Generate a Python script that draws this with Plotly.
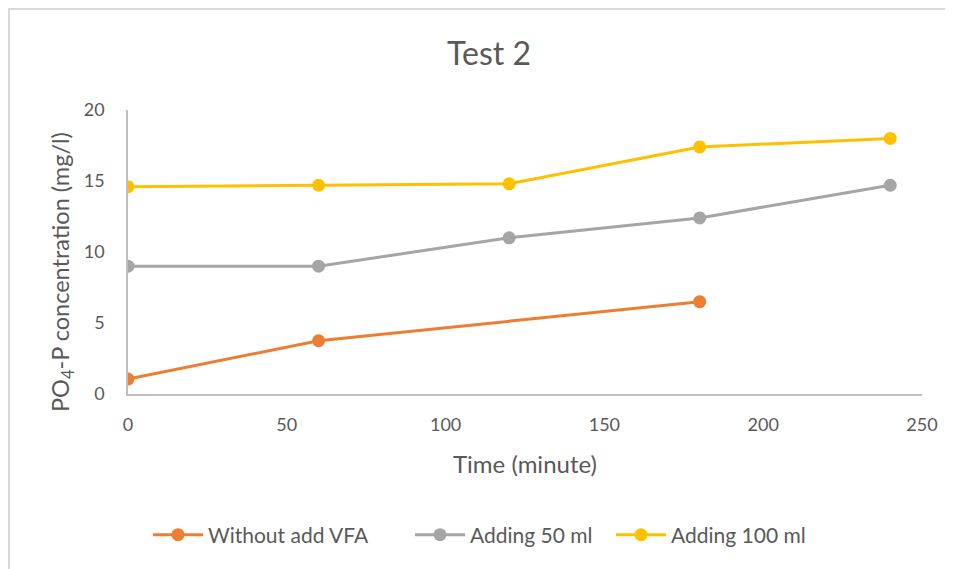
import plotly.graph_objects as go

time_orange = [0, 60, 180]
without_vfa = [1.05, 3.75, 6.5]
time_all = [0, 60, 120, 180, 240]
adding_50 = [9.0, 9.0, 11.0, 12.4, 14.7]
adding_100 = [14.6, 14.7, 14.8, 17.4, 18.0]

series = [
    ("Without add VFA", time_orange, without_vfa, "#ED7D31", "legend", 150),
    ("Adding 50 ml", time_all, adding_50, "#A5A5A5", "legend2", 412),
    ("Adding 100 ml", time_all, adding_100, "#FFC000", "legend3", 613),
]

L, R, T, B = 120, 39, 102, 183
PW, PH = 953 - L - R, 569 - T - B
OFF = 8  # page body margin

fig = go.Figure()
legends = {}
for name, xs, ys, col, lg, lx in series:
    fig.add_trace(go.Scatter(
        x=xs, y=ys, name=name, mode="lines+markers", legend=lg,
        line=dict(color=col, width=3),
        marker=dict(color=col, size=13),
    ))
    legends[lg] = dict(orientation="h", x=(lx - OFF - L - 2) / PW, xanchor="left",
                       y=-(535 - OFF - T - PH) / PH, yanchor="middle",
                       font=dict(size=21, color="#595959"), itemwidth=50,
                       bgcolor="rgba(0,0,0,0)")

font = "Lato, 'Open Sans', sans-serif"
fig.update_layout(
    width=953, height=569,
    paper_bgcolor="white", plot_bgcolor="white",
    margin=dict(l=L, r=R, t=T, b=B),
    font=dict(family=font, color="#595959", size=18),
    title=dict(text="Test 2", x=(489 - OFF) / 953, xanchor="center",
               y=1 - (54 - OFF) / 569, yanchor="middle",
               font=dict(size=32, color="#595959", family=font)),
    xaxis=dict(range=[0, 250], tickvals=[0, 50, 100, 150, 200, 250],
               showgrid=False, zeroline=False, showline=True,
               linecolor="#BFBFBF", linewidth=1.5, ticks="", ticklen=0,
               ticklabelstandoff=14,
               tickfont=dict(size=18, color="#595959"),
               title=dict(text="Time (minute)", font=dict(size=24, color="#595959"), standoff=22)),
    yaxis=dict(range=[0, 20], tickvals=[0, 5, 10, 15, 20],
               showgrid=False, zeroline=False, showline=True,
               linecolor="#BFBFBF", linewidth=1.5, ticks="", ticklen=0,
               ticklabelstandoff=18,
               tickfont=dict(size=18, color="#595959")),
    showlegend=True,
    **legends,
)

fig.add_annotation(text="PO<sub>4</sub>-P concentration (mg/l)", textangle=-90,
                   xref="paper", yref="paper", showarrow=False,
                   x=(62 - OFF - L) / PW, y=(PH - (272 - OFF - T)) / PH,
                   xanchor="center", yanchor="middle",
                   font=dict(size=23.5, color="#595959", family=font))

fig.add_shape(type="rect", xref="paper", yref="paper",
              x0=-(L - 1) / PW, x1=1 + (R + 20) / PW,
              y0=-(B + 20) / PH, y1=1 + (T - 1) / PH,
              line=dict(color="#D9D9D9", width=2), fillcolor="rgba(0,0,0,0)",
              layer="below")

fig.write_html("out.html")
